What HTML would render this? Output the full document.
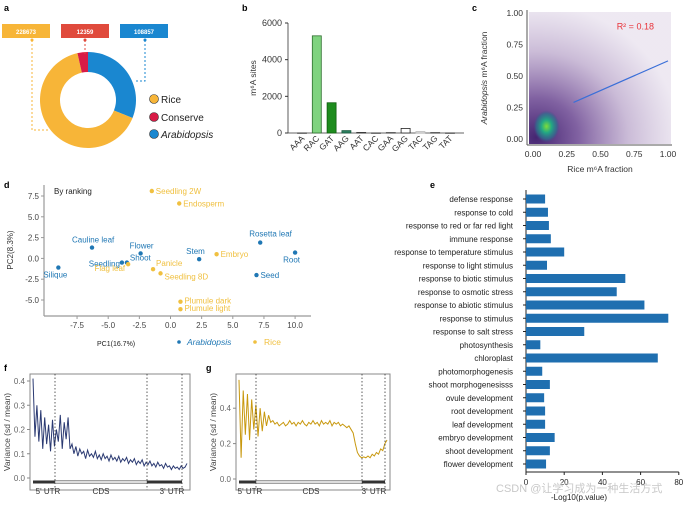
<!DOCTYPE html>
<html><head><meta charset="utf-8"><style>
body{margin:0;background:#fff;}
svg{display:block;font-family:"Liberation Sans","Noto Sans CJK SC",sans-serif;}
</style></head><body>
<svg id="fig" width="685" height="507" viewBox="0 0 685 507">
<defs>
<radialGradient id="dens" cx="0.05" cy="0.95" r="1.0">
<stop offset="0" stop-color="#3b1a6a" stop-opacity="0.95"/>
<stop offset="0.3" stop-color="#4b1f7a" stop-opacity="0.7"/>
<stop offset="0.65" stop-color="#6a3f8e" stop-opacity="0.35"/>
<stop offset="1" stop-color="#8c6aa8" stop-opacity="0.15"/>
</radialGradient>
<radialGradient id="hot" cx="0.5" cy="0.5" r="0.5">
<stop offset="0" stop-color="#7ddc3a"/>
<stop offset="0.4" stop-color="#22a884"/>
<stop offset="0.8" stop-color="#2c728e" stop-opacity="0.7"/>
<stop offset="1" stop-color="#3b528b" stop-opacity="0"/>
</radialGradient>
</defs>
<g font-weight="bold" font-size="9" fill="#000">
<text x="4" y="11">a</text>
<text x="242" y="11">b</text>
<text x="472" y="11">c</text>
<text x="4" y="188">d</text>
<text x="430" y="188">e</text>
<text x="4" y="371">f</text>
<text x="206" y="371">g</text>
</g>
<g id="pa"></g>
<g id="pb"></g>
<g id="pc"></g>
<g id="pd"></g>
<g id="pe"></g>
<g id="pf"></g>
<g id="pg"></g>
<text x="496" y="492" font-size="11" fill="#c8c8c8">CSDN @让学习成为一种生活方式</text>
</svg>
<script>
// ---- data ----
const donutLabels=["Arabidopsis","Rice","Conserve"];
const donutValues=[108857,228673,12359];
const motifCats=["AAA","RAC","GAT","AAG","AAT","CAC","GAA","GAG","TAC","TAG","TAT"];
const motifVals=[0,5300,1650,130,30,0,20,250,80,20,0];
const cTicks=[0,0.25,0.5,0.75,1.0];
const regX=[0.3,1.0];
const regY=[0.29,0.62];
const pcaNames=["Silique","Cauline leaf","Seedling","Shoot","Flower","Stem","Rosetta leaf","Root","Seed","Seedling 2W","Endosperm","Embryo","Flag leaf","Panicle","Seedling 8D","Plumule dark","Plumule light"];
const pcaX=[-9,-6.3,-3.9,-3.5,-2.4,2.3,7.2,10,6.9,-1.5,0.7,3.7,-3.4,-1.4,-0.8,0.8,0.8];
const pcaY=[-1.1,1.3,-0.5,-0.5,0.6,-0.1,1.9,0.7,-2,8.1,6.6,0.5,-0.7,-1.3,-1.8,-5.2,-6.1];
const pcaSpecies=["A","A","A","A","A","A","A","A","A","R","R","R","R","R","R","R","R"];
const pcaXTicks=[-7.5,-5,-2.5,0,2.5,5,7.5,10];
const pcaYTicks=[7.5,5,2.5,0,-2.5,-5];
const goTerms=["defense response","response to cold","response to red or far red light","immune response","response to temperature stimulus","response to light stimulus","response to biotic stimulus","response to osmotic stress","response to abiotic stimulus","response to stimulus","response to salt stress","photosynthesis","chloroplast","photomorphogenesis","shoot morphogenesisss","ovule development","root development","leaf development","embryo development","shoot development","flower development"];
const goVals=[10,11.5,12,13,20,11,52,47.5,62,74.5,30.5,7.5,69,8.5,12.5,9.5,10,10,15,12.5,10.5];
const goTicks=[0,20,40,60,80];
const fVals=[0.41,0.17,0.3,0.15,0.28,0.12,0.25,0.14,0.22,0.11,0.24,0.13,0.2,0.15,0.26,0.12,0.23,0.16,0.25,0.12,0.14,0.1,0.13,0.09,0.12,0.1,0.11,0.08,0.115,0.09,0.1,0.085,0.11,0.08,0.095,0.075,0.1,0.08,0.09,0.07,0.095,0.075,0.085,0.07,0.09,0.065,0.08,0.07,0.085,0.06,0.075,0.065,0.08,0.055,0.07,0.06,0.075,0.05,0.065,0.055,0.07,0.05,0.06,0.045,0.065,0.05,0.055,0.04,0.06,0.045,0.05,0.035,0.05,0.04,0.045,0.035,0.05,0.04,0.045,0.06];
const fTicks=[0,0.1,0.2,0.3,0.4];
const gVals=[0.56,0.12,0.5,0.25,0.48,0.22,0.45,0.28,0.42,0.24,0.4,0.27,0.38,0.3,0.36,0.32,0.33,0.31,0.32,0.3,0.31,0.32,0.3,0.31,0.33,0.31,0.32,0.3,0.32,0.31,0.33,0.31,0.3,0.32,0.31,0.33,0.31,0.32,0.3,0.33,0.31,0.32,0.31,0.33,0.3,0.32,0.31,0.32,0.3,0.31,0.3,0.29,0.3,0.28,0.26,0.2,0.15,0.13,0.12,0.125,0.12,0.13,0.12,0.14,0.13,0.15,0.14,0.17,0.16,0.2,0.22];
const gTicks=[0,0.2,0.4];
// ---- helpers ----
const NS="http://www.w3.org/2000/svg";
function mk(parent,tag,attrs,txt){const e=document.createElementNS(NS,tag);for(const k in attrs)e.setAttribute(k,attrs[k]);if(txt!==undefined)e.textContent=txt;parent.appendChild(e);return e;}
const G=id=>document.getElementById(id);
// ---- panel a ----
(function(){
 const g=G('pa');const cx=88,cy=100,R=48,r=28;const cols=["#1a87d0","#f7b538","#d81b46"];
 const tot=donutValues.reduce((a,b)=>a+b,0);let a0=0;
 donutValues.forEach((v,i)=>{const a1=a0+v/tot*2*Math.PI;
  const p=(ang,rad)=>[cx+rad*Math.sin(ang),cy-rad*Math.cos(ang)];
  const [x1,y1]=p(a0,R),[x2,y2]=p(a1,R),[x3,y3]=p(a1,r),[x4,y4]=p(a0,r);const lg=(a1-a0)>Math.PI?1:0;
  const s=mk(g,'path',{d:`M${x1},${y1}A${R},${R} 0 ${lg} 1 ${x2},${y2}L${x3},${y3}A${r},${r} 0 ${lg} 0 ${x4},${y4}Z`,fill:cols[i]});
  
  
  a0=a1;});
 const boxes=[[2,"#f7b538",1],[61,"#e04a3c",2],[120,"#1a87d0",0]];
 boxes.forEach(b=>{const v=donutValues[b[2]];
  const bx=mk(g,'rect',{x:b[0],y:24,width:48,height:14,fill:b[1]});
  
  
  const t=mk(g,'text',{x:b[0]+24,y:34,'font-size':6,'font-weight':'bold',fill:'#fff','text-anchor':'middle'},String(v));
  
  });
 mk(g,'path',{d:'M32,40V130H48',stroke:'#f7b538','stroke-dasharray':'2,2',fill:'none'});
 mk(g,'path',{d:'M85,40V55',stroke:'#e04a3c','stroke-dasharray':'2,2',fill:'none'});
 mk(g,'path',{d:'M145,40V81H134',stroke:'#1a87d0','stroke-dasharray':'2,2',fill:'none'});
 [[32,40,"#f7b538"],[85,40,"#e04a3c"],[145,40,"#1a87d0"]].forEach(d=>mk(g,'circle',{cx:d[0],cy:d[1],r:1.5,fill:d[2]}));
 const leg=[["Rice","#f7b538",99,false],["Conserve","#d81b46",117,false],["Arabidopsis","#1a87d0",134,true]];
 leg.forEach(l=>{const c=mk(g,'circle',{cx:154,cy:l[2],r:4.5,fill:l[1],stroke:'#333','stroke-width':0.6});
  
  
  const t=mk(g,'text',{x:161,y:l[2]+4,'font-size':10,fill:'#222','font-style':l[3]?'italic':'normal'},l[0]);
  
  });
})();
// ---- panel b ----
(function(){
 const g=G('pb');const y0=133,y6=23;const ys=v=>y0-(v/6000)*(y0-y6);const x0=302,step=14.8;
 mk(g,'line',{x1:288,y1:y6,x2:288,y2:y0,stroke:'#333','stroke-width':0.8});
 mk(g,'line',{x1:288,y1:y0,x2:464,y2:y0,stroke:'#333','stroke-width':0.8});
 [0,2000,4000,6000].forEach(v=>{mk(g,'line',{x1:285,y1:ys(v),x2:288,y2:ys(v),stroke:'#333'});
  mk(g,'text',{x:282,y:ys(v)+3,'font-size':9,'text-anchor':'end',fill:'#333'},String(v));});
 const fills=["#fff","#7fd37f","#1e8c1e","#2b7e5e","#555","#fff","#555","#fff","#ddd","#555","#fff"];
 const strokes=["#333","#2d6e2d","#0e5e0e","#1a5a40","#333","#333","#333","#222","#bbb","#333","#333"];
 motifCats.forEach((c,i)=>{const x=x0+i*step;const v=motifVals[i];
  const b=mk(g,'rect',{x:x-4.5,y:ys(v),width:9,height:Math.max(0.3,y0-ys(v)),fill:fills[i],stroke:strokes[i],'stroke-width':0.8});
  
  
  mk(g,'text',{x:x+3,y:y0+6,'font-size':8.5,'text-anchor':'end',fill:'#333',transform:`rotate(-45 ${x+3} ${y0+6})`},c);});
 mk(g,'text',{x:0,y:0,'font-size':8.5,'text-anchor':'middle',fill:'#333',transform:'translate(256,78) rotate(-90)'},'m⁶A sites');
})();
// ---- panel c ----
(function(){
 const g=G('pc');const xs=v=>533+v*135,ys=v=>139-v*126;
 mk(g,'rect',{x:529,y:12,width:142,height:132,fill:'url(#dens)'});
 mk(g,'ellipse',{cx:xs(0.1),cy:ys(0.1),rx:13,ry:16,fill:'url(#hot)'});
 const ln=mk(g,'line',{x1:xs(regX[0]),y1:ys(regY[0]),x2:xs(regX[1]),y2:ys(regY[1]),stroke:'#3a6fd8','stroke-width':1.2});
 
 
 mk(g,'text',{x:xs(0.62),y:ys(0.87),'font-size':9,fill:'#e8333a'},'R² = 0.18');
 mk(g,'line',{x1:527,y1:10,x2:527,y2:145,stroke:'#555'});
 mk(g,'line',{x1:527,y1:145,x2:672,y2:145,stroke:'#555'});
 cTicks.forEach(v=>{mk(g,'text',{x:xs(v),y:157,'font-size':8.5,'text-anchor':'middle',fill:'#333'},v.toFixed(2));
  mk(g,'text',{x:523,y:ys(v)+3,'font-size':8.5,'text-anchor':'end',fill:'#333'},v.toFixed(2));});
 mk(g,'text',{x:600,y:172,'font-size':8.5,'text-anchor':'middle',fill:'#333'},'Rice m⁶A fraction');
 const t=mk(g,'text',{x:0,y:0,'font-size':8.5,'text-anchor':'middle',fill:'#333',transform:'translate(487,78) rotate(-90)'});
 mk(t,'tspan',{'font-style':'italic'},'Arabidopsis');mk(t,'tspan',{},' m⁶A fraction');
})();
// ---- panel d ----
(function(){
 const g=G('pd');const xs=v=>170.5+v*12.46,ys=v=>258.4-v*8.32;
 mk(g,'line',{x1:44,y1:185,x2:44,y2:316,stroke:'#999','stroke-width':1.2});
 mk(g,'line',{x1:44,y1:316,x2:311,y2:316,stroke:'#999','stroke-width':1.2});
 pcaXTicks.forEach(v=>{mk(g,'line',{x1:xs(v),y1:316,x2:xs(v),y2:319,stroke:'#999'});
  mk(g,'text',{x:xs(v),y:328,'font-size':8,'text-anchor':'middle',fill:'#444'},v.toFixed(1));});
 pcaYTicks.forEach(v=>{mk(g,'line',{x1:41,y1:ys(v),x2:44,y2:ys(v),stroke:'#999'});
  mk(g,'text',{x:39,y:ys(v)+3,'font-size':8,'text-anchor':'end',fill:'#444'},v.toFixed(1));});
 mk(g,'text',{x:54,y:194,'font-size':8,fill:'#222'},'By ranking');
 mk(g,'text',{x:0,y:0,'font-size':8,'text-anchor':'middle',fill:'#333',transform:'translate(13,250) rotate(-90)'},'PC2(8.3%)');
 mk(g,'text',{x:97,y:346,'font-size':7,fill:'#222'},'PC1(16.7%)');
 const off={"Silique":[-15,10,'start'],"Cauline leaf":[-20,-5,'start'],"Seedling":[-2,4,'end'],"Shoot":[3,-2,'start'],"Flower":[-11,-5,'start'],"Stem":[-13,-5,'start'],"Rosetta leaf":[-11,-6,'start'],"Root":[-12,10,'start'],"Seed":[4,3,'start'],"Seedling 2W":[4,3,'start'],"Endosperm":[4,3,'start'],"Embryo":[4,3,'start'],"Flag leaf":[-3,7,'end'],"Panicle":[3,-3,'start'],"Seedling 8D":[4,6,'start'],"Plumule dark":[4,2,'start'],"Plumule light":[4,2,'start']};
 pcaNames.forEach((n,i)=>{const c=pcaSpecies[i]==="A"?"#1f77b4":"#f0c040";const x=xs(pcaX[i]),y=ys(pcaY[i]);
  const p=mk(g,'circle',{cx:x,cy:y,r:2.2,fill:c});
  
  
  const o=off[n];mk(g,'text',{x:x+o[0],y:y+o[1],'font-size':8,fill:c,'text-anchor':o[2]},n);});
 mk(g,'circle',{cx:179,cy:342,r:1.8,fill:'#1f77b4'});
 mk(g,'text',{x:187,y:345,'font-size':8.5,fill:'#1f77b4','font-style':'italic'},'Arabidopsis');
 mk(g,'circle',{cx:255,cy:342,r:1.8,fill:'#f0c040'});
 mk(g,'text',{x:264,y:345,'font-size':8.5,fill:'#f0c040'},'Rice');
})();
// ---- panel e ----
(function(){
 const g=G('pe');const x0=526,xs=v=>x0+v*1.91;const y0=199,step=13.25;
 mk(g,'line',{x1:x0,y1:190,x2:x0,y2:472,stroke:'#222'});
 mk(g,'line',{x1:x0,y1:472,x2:xs(80),y2:472,stroke:'#222'});
 goTerms.forEach((t,i)=>{const y=y0+i*step;
  const b=mk(g,'rect',{x:x0,y:y-4.5,width:xs(goVals[i])-x0,height:9,fill:'#1f6fb0'});
  
  
  mk(g,'line',{x1:x0-3,y1:y,x2:x0,y2:y,stroke:'#222'});
  mk(g,'text',{x:x0-13,y:y+3,'font-size':8,'text-anchor':'end',fill:'#222'},t);});
 goTicks.forEach(v=>{mk(g,'line',{x1:xs(v),y1:472,x2:xs(v),y2:475,stroke:'#222'});
  mk(g,'text',{x:xs(v),y:485,'font-size':8,'text-anchor':'middle',fill:'#222'},String(v));});
 mk(g,'text',{x:579,y:500,'font-size':8,'text-anchor':'middle',fill:'#222'},'-Log10(p.value)');
})();
// ---- panels f,g ----
function varPanel(id,vals,ticks,box,ys,color,dots,seg){
 const g=G(id);
 mk(g,'rect',{x:box[0],y:box[1],width:box[2]-box[0],height:box[3]-box[1],fill:'none',stroke:'#888','stroke-width':1});
 ticks.forEach(v=>{mk(g,'line',{x1:box[0]-3,y1:ys(v),x2:box[0],y2:ys(v),stroke:'#888'});
  mk(g,'text',{x:box[0]-5,y:ys(v)+3,'font-size':8,'text-anchor':'end',fill:'#666'},v.toFixed(1));});
 mk(g,'text',{x:0,y:0,'font-size':8.5,'text-anchor':'middle',fill:'#444',transform:`translate(${box[0]-20},${(box[1]+box[3])/2}) rotate(-90)`},'Variance (sd / mean)');
 const x1=box[0]+3,x2=box[2]-3;const xs=i=>x1+i*(x2-x1)/(vals.length-1);
 const pl=mk(g,'polyline',{points:vals.map((v,i)=>xs(i)+','+ys(v)).join(' '),fill:'none',stroke:color,'stroke-width':1});
 
 
 dots.forEach(x=>mk(g,'line',{x1:x,y1:box[1],x2:x,y2:box[3],stroke:'#333','stroke-dasharray':'1.5,2','stroke-width':0.8}));
 const gy=482;
 mk(g,'rect',{x:x1,y:gy-1.5,width:dots[0]-x1,height:3,fill:'#333'});
 mk(g,'rect',{x:dots[0],y:gy-1.5,width:dots[1]-dots[0],height:3,fill:'#ddd',stroke:'#555','stroke-width':0.5});
 mk(g,'rect',{x:dots[1],y:gy-1.5,width:dots[2]-dots[1],height:3,fill:'#333'});
 mk(g,'text',{x:seg[0],y:494,'font-size':8,fill:'#333','text-anchor':'middle'},"5' UTR");
 mk(g,'text',{x:seg[1],y:494,'font-size':8,fill:'#333','text-anchor':'middle'},"CDS");
 mk(g,'text',{x:seg[2],y:494,'font-size':8,fill:'#333','text-anchor':'middle'},"3' UTR");
}
varPanel('pf',fVals,fTicks,[30,374,190,490],v=>478-v*242.5,'#2b3a72',[55,147,182],[48,101,172]);
varPanel('pg',gVals,gTicks,[236,374,390,490],v=>479-v*177,'#c8980e',[256,362,385],[250,311,374]);
</script>
</body></html>
